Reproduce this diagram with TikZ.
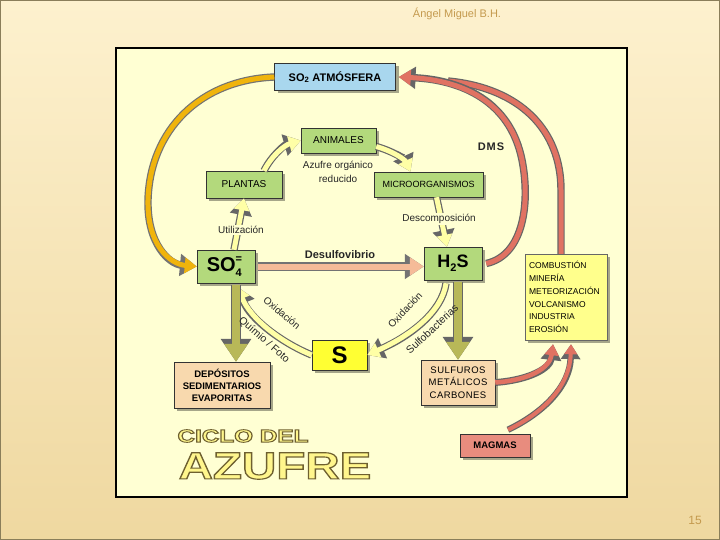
\documentclass[tikz,border=0pt]{standalone}
\usepackage{fontspec}
\setmainfont{Liberation Sans}
\usepackage{graphicx}
\usetikzlibrary{arrows.meta,shadows}

\definecolor{pagetop}{HTML}{FDF1CE}
\definecolor{pagebot}{HTML}{EFD8A0}
\definecolor{frame}{HTML}{8A7E5A}
\definecolor{panel}{HTML}{FFFFD3}
\definecolor{skyblue}{HTML}{A9D7EE}
\definecolor{leaf}{HTML}{B3D97C}
\definecolor{sand}{HTML}{F8D9AE}
\definecolor{lemon}{HTML}{FFFF8C}
\definecolor{sulfur}{HTML}{FFFF33}
\definecolor{salmon}{HTML}{E88C7E}
\definecolor{brick}{HTML}{E07262}
\definecolor{amber}{HTML}{F0B40C}
\definecolor{pale}{HTML}{FFFFA6}
\definecolor{olive}{HTML}{B8B858}
\definecolor{peach}{HTML}{F5BB98}
\definecolor{signature}{HTML}{C49A4E}
\definecolor{titleyellow}{HTML}{FFF68C}

%% yellow letters with a dark rim
\newcommand{\titletext}[2]{{\color{titleyellow}\special{pdf:literal direct 0.43 0.376 0.188 RG}%
  \addfontfeature{FakeBold=#1}#2}}

\tikzset{
  card/.style={draw=black!80, line width=0.5pt, inner sep=1pt, align=center,
    drop shadow={shadow xshift=3pt, shadow yshift=-3pt, opacity=0.35, fill=black}},
  flow/.style={line width=#1, -{Triangle[length=2pt 2, width=2pt 2.6]}},
  rim/.style={preaction={draw=#1, line width=\pgflinewidth+1.2pt}},
  tag/.style={text=black!85, inner sep=1pt, align=center},
}

\begin{document}
\begin{tikzpicture}[x=1pt,y=-1pt]
  \useasboundingbox (0,0) rectangle (720,540);
  %% page
  \shade[top color=pagetop, bottom color=pagebot] (0,0) rectangle (720,540);
  \draw[frame, line width=1pt] (0.5,0.5) rectangle (719.5,539.5);
  \node[text=signature, font=\fontsize{11}{11}\selectfont] (author) at (457,14) {Ángel Miguel B.H.};
  \node[text=signature, font=\fontsize{12}{12}\selectfont] (pageno) at (695,520) {15};
  %% panel
  \draw[fill=panel, line width=1.2pt] (116,48) rectangle (627,497);

  %% boxes
  \node[card, fill=skyblue, minimum width=121pt, minimum height=27pt,
    font=\bfseries\fontsize{11}{11}\selectfont] (atm) at (335,77) {SO\textsubscript{2} ATMÓSFERA};
  \node[card, fill=leaf, minimum width=75pt, minimum height=25pt,
    font=\fontsize{10}{10}\selectfont] (animales) at (338.5,140.5) {ANIMALES};
  \node[card, fill=leaf, minimum width=76pt, minimum height=27pt,
    font=\fontsize{10}{10}\selectfont] (plantas) at (244,184.5) {PLANTAS};
  \node[card, fill=leaf, minimum width=109pt, minimum height=25pt,
    font=\fontsize{9}{9}\selectfont] (micro) at (428.5,184.5) {MICROORGANISMOS};
  \node[card, fill=leaf, minimum width=58pt, minimum height=33pt,
    font=\bfseries\fontsize{20}{20}\selectfont] (so4) at (226,266.5)
    {SO\rlap{\raisebox{0.85ex}{\fontsize{11}{11}\selectfont =}}\raisebox{-0.5ex}{\fontsize{11}{11}\selectfont 4}\,};
  \node[card, fill=leaf, minimum width=58pt, minimum height=33pt,
    font=\bfseries\fontsize{18}{18}\selectfont] (h2s) at (453,263.5)
    {H\raisebox{-0.45ex}{\fontsize{11}{11}\selectfont 2}S};
  \node[card, fill=lemon, draw=black!60, minimum width=82pt, minimum height=86pt,
    text width=74pt, align=left, font=\fontsize{8.5}{12.8}\selectfont] (fuentes) at (566,297)
    {COMBUSTIÓN\\MINERÍA\\METEORIZACIÓN\\VOLCANISMO\\INDUSTRIA\\EROSIÓN};
  \node[card, fill=sulfur, minimum width=55pt, minimum height=30pt,
    font=\bfseries\fontsize{24}{24}\selectfont] (s) at (339.5,355) {S};
  \node[card, fill=sand, minimum width=96pt, minimum height=46pt,
    font=\bfseries\fontsize{9.5}{12}\selectfont] (depositos) at (222,385)
    {DEPÓSITOS\\SEDIMENTARIOS\\EVAPORITAS};
  \node[card, fill=sand, minimum width=74pt, minimum height=45pt,
    font=\fontsize{9.5}{12.5}\selectfont\addfontfeature{LetterSpace=5}] (sulfuros) at (458,382.5)
    {SULFUROS\\METÁLICOS\\CARBONES};
  \node[card, fill=salmon, minimum width=70pt, minimum height=23pt,
    font=\bfseries\fontsize{9.5}{9.5}\selectfont] (magmas) at (495,445.5) {MAGMAS};

  %% big loops
  \draw[flow=5pt, draw=amber, rim=black!55] (atm.west)
    .. controls (200,80) and (150,130) .. (148,200)
    .. controls (147,245) and (170,264) .. (so4.west);
  \draw[line width=5pt, draw=brick, rim=black!60] ([xshift=-5pt]fuentes.north) -- (561,190)
    .. controls (561,130) and (520,88) .. (448,81);
  \draw[flow=5pt, draw=brick, rim=black!60] ([xshift=4pt]h2s.east)
    .. controls (525,255) and (530,200) .. (522,160)
    .. controls (510,100) and (460,80) .. ([xshift=3pt]atm.east);
  \draw[flow=4.5pt, draw=brick, rim=black!60] (sulfuros.east)
    .. controls (530,380) and (550,368) .. ([xshift=-13pt,yshift=-4pt]fuentes.south);
  \draw[flow=4pt, draw=brick, rim=black!60] ([xshift=13pt,yshift=4pt]magmas.north)
    .. controls (545,412) and (570,385) .. ([xshift=5pt,yshift=-4pt]fuentes.south);

  %% inner cycle
  \draw[flow=5pt, draw=pale, rim=black!60] ([xshift=20pt]plantas.north)
    .. controls (272,155) and (285,145) .. (animales.west);
  \draw[flow=5pt, draw=pale, rim=black!60] ([yshift=-6pt]animales.east)
    .. controls (395,152) and (405,160) .. ([xshift=-18pt]micro.north);
  \draw[flow=5pt, draw=pale, rim=black!60] ([xshift=8pt]micro.south) -- ([xshift=-6pt]h2s.north);
  \draw[flow=5pt, draw=pale, rim=black!60] ([xshift=8pt]so4.north) -- (plantas.south);
  \draw[flow=5pt, draw=pale, rim=black!60] (s.west)
    .. controls (280,342) and (250,318) .. ([xshift=12pt,yshift=-4pt]so4.south);
  \draw[flow=5pt, draw=pale, rim=black!60] ([xshift=-7pt,yshift=-3pt]h2s.south)
    .. controls (442,312) and (410,336) .. (s.east);
  \draw[flow=6pt, draw=peach, rim=black!55] ([xshift=3pt]so4.east) -- (so4.east -| h2s.west);
  \draw[flow=8pt, draw=olive, rim=black!60] ([xshift=10pt,yshift=-2pt]so4.south) -- ([xshift=14pt]depositos.north);
  \draw[flow=8pt, draw=olive, rim=black!60] ([xshift=5pt,yshift=-2pt]h2s.south) -- (sulfuros.north);

  %% labels
  \node[tag, font=\bfseries\fontsize{11}{11}\selectfont\addfontfeature{LetterSpace=8}] (dms) at (491,147) {DMS};
  \node[tag, font=\bfseries\fontsize{11}{11}\selectfont] (desulfo) at (340,255) {Desulfovibrio};
  \node[tag, font=\fontsize{10}{14}\selectfont] (organico) at (338,172) {Azufre orgánico\\reducido};
  \node[tag, fill=panel, font=\fontsize{10}{10}\selectfont] (descomp) at (439,219) {Descomposición};
  \node[tag, fill=panel, font=\fontsize{10}{10}\selectfont] (utiliza) at (241,230) {Utilización};
  \node[tag, rotate=-40, font=\fontsize{10}{10}\selectfont] (oxleft) at (282,313) {Oxidación};
  \node[tag, rotate=-41, font=\fontsize{10.5}{10.5}\selectfont] (quimio) at (264,340) {Químio / Foto};
  \node[tag, rotate=47, font=\fontsize{10}{10}\selectfont] (oxright) at (405,310) {Oxidación};
  \node[tag, rotate=43, font=\fontsize{10.5}{10.5}\selectfont] (sulfob) at (432,329) {Sulfobacterias};

  %% title
  \node[font=\bfseries\fontsize{18}{18}\selectfont] (ciclo) at (243,436)
    {\scalebox{1.35}[1]{\titletext{5}{CICLO DEL}}};
  \node[font=\bfseries\fontsize{38}{38}\selectfont] (azufre) at (275,466)
    {\scalebox{1.25}[1]{\titletext{3}{AZUFRE}}};
\end{tikzpicture}
\end{document}
